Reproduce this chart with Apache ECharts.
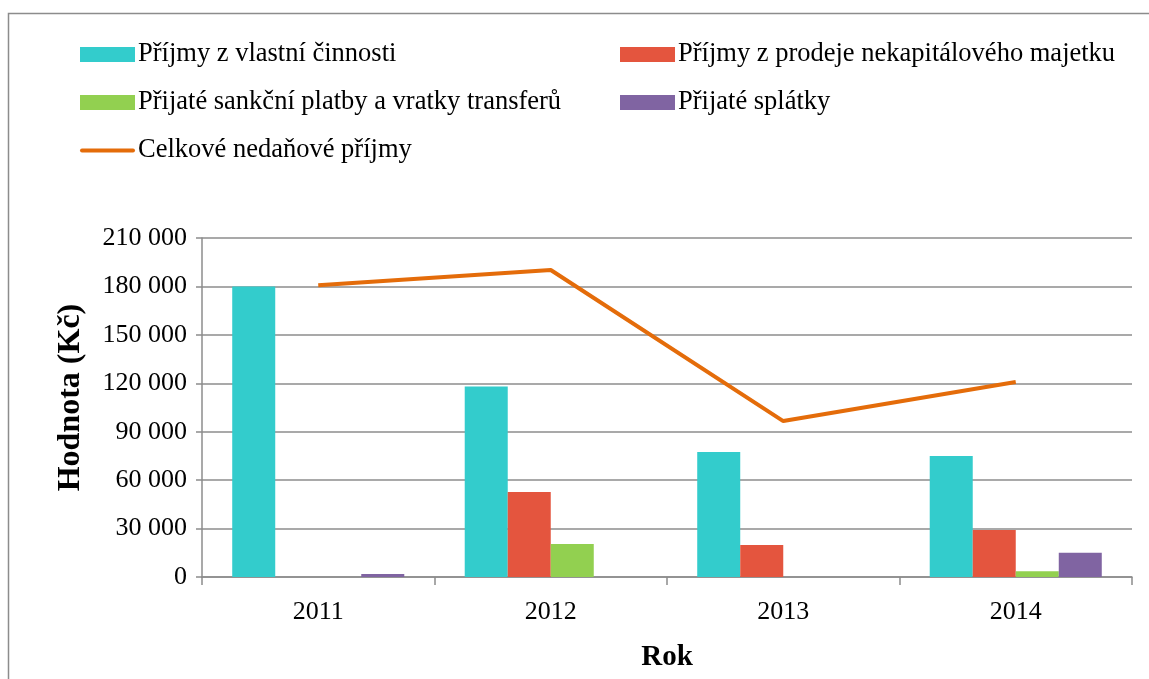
<!DOCTYPE html>
<html>
<head>
<meta charset="utf-8">
<script src="https://cdn.jsdelivr.net/npm/echarts@6/dist/echarts.min.js"></script>
<style>
  html, body { margin: 0; padding: 0; background: #fff; }
  #chart { width: 1149px; height: 679px; }
</style>
</head>
<body>
<div id="chart"></div>
<script>
  // data
  const years = ['2011', '2012', '2013', '2014'];
  const vlastniCinnost = [180000, 118000, 77500, 75000];
  const prodejMajetku = [0, 52700, 19800, 29100];
  const sankcniPlatby = [0, 20400, 0, 3500];
  const splatky = [1800, 0, 0, 15000];
  const celkem = [180800, 190200, 96600, 120800];

  const names = [
    'Příjmy z vlastní činnosti',
    'Příjmy z prodeje nekapitálového majetku',
    'Přijaté sankční platby a vratky transferů',
    'Přijaté splátky',
    'Celkové nedaňové příjmy'
  ];

  const font = 'Liberation Serif';
  const gray = '#8c8c8c';

  let chart = echarts.init(document.getElementById('chart'));

  function fmt(v) {
    return String(v).replace(/\B(?=(\d{3})+(?!\d))/g, ' ');
  }

  const legendBase = {
    orient: 'vertical',
    itemWidth: 55,
    itemHeight: 15,
    itemGap: 21,
    icon: 'rect',
    textStyle: { fontFamily: font, fontSize: 26.5, lineHeight: 27, color: '#000', padding: [0, 0, 0, -2] }
  };

  chart.setOption({
    animation: false,
    graphic: [{
      type: 'rect',
      shape: { x: 8.5, y: 13.5, width: 1200, height: 800 },
      style: { fill: 'none', stroke: gray, lineWidth: 1.5 },
      silent: true
    }],
    legend: [
      Object.assign({}, legendBase, {
        left: 75, top: 36,
        data: [
          names[0], names[2],
          { name: names[4], icon: 'path://M2,0 L53,0 A2,2 0 0 1 53,4 L2,4 A2,2 0 0 1 2,0 Z' }
        ]
      }),
      Object.assign({}, legendBase, { left: 615, top: 36, data: [names[1], names[3]] })
    ],
    grid: { left: 202, right: 17, top: 238, bottom: 102, outerBoundsMode: 'none', containLabel: false },
    xAxis: {
      type: 'category',
      data: years,
      name: 'Rok',
      nameLocation: 'middle',
      nameGap: 66,
      nameTextStyle: { fontFamily: font, fontSize: 29, fontWeight: 'bold', color: '#000' },
      axisLine: { lineStyle: { color: gray, width: 1.5 } },
      axisTick: { show: true, length: 8, lineStyle: { color: gray, width: 1.5 } },
      axisLabel: { fontFamily: font, fontSize: 26, color: '#000', margin: 22 }
    },
    yAxis: {
      type: 'value',
      min: 0,
      max: 210000,
      interval: 30000,
      name: 'Hodnota (Kč)',
      nameLocation: 'middle',
      nameGap: 115,
      nameTextStyle: { fontFamily: font, fontSize: 32, fontWeight: 'bold', color: '#000', padding: [0, 0, 0, 20] },
      axisLine: { show: true, lineStyle: { color: gray, width: 1.5 } },
      axisTick: { show: true, length: 6, lineStyle: { color: gray, width: 1.5 } },
      axisLabel: { fontFamily: font, fontSize: 26, color: '#000', margin: 15, formatter: fmt },
      splitLine: { lineStyle: { color: gray, width: 1.5 } }
    },
    series: [
      { name: names[0], type: 'bar', data: vlastniCinnost, itemStyle: { color: '#33CCCC' }, barGap: '0%', barCategoryGap: '26%' },
      { name: names[1], type: 'bar', data: prodejMajetku, itemStyle: { color: '#E4553E' } },
      { name: names[2], type: 'bar', data: sankcniPlatby, itemStyle: { color: '#92D050' } },
      { name: names[3], type: 'bar', data: splatky, itemStyle: { color: '#8064A2' } },
      {
        name: names[4], type: 'line', data: celkem,
        symbol: 'none',
        itemStyle: { color: '#E46C0A' },
        lineStyle: { color: '#E46C0A', width: 4 }
      }
    ]
  });
</script>
</body>
</html>
